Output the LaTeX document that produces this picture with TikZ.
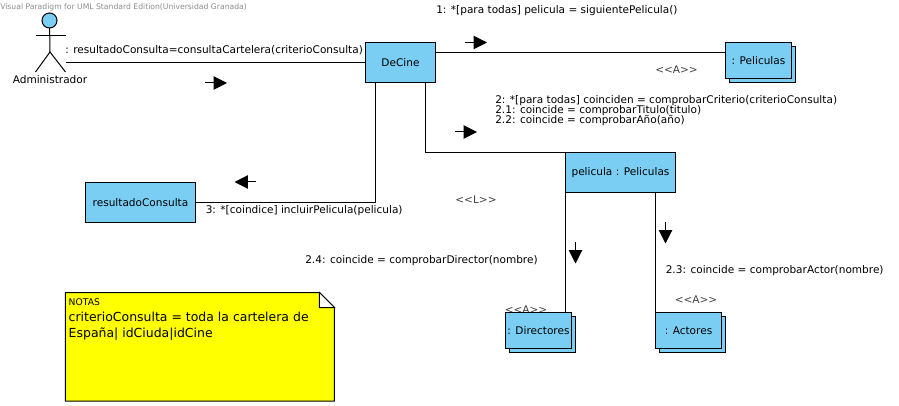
\documentclass[tikz,border=0pt]{standalone}
\usepackage{xcolor}
\usepackage{fontspec}
\setmainfont{DejaVu Sans}
\usetikzlibrary{arrows.meta, positioning, shadows}
\definecolor{objblue}{RGB}{122, 206, 244}
\definecolor{noteyellow}{RGB}{255, 255, 0}
\tikzset{
    objbox/.style={rectangle, draw=black, fill=objblue, line width=0.75pt, outer sep=0pt, minimum width=52.5pt, minimum height=30pt, inner sep=0pt, text centered, font=\fontsize{7.9}{9}\selectfont},
    multibox/.style={objbox, minimum width=49.5pt, minimum height=27pt, text height=7.5pt, text depth=1pt, copy shadow={shadow xshift=3pt, shadow yshift=-3pt, draw=black, fill=objblue, line width=0.75pt}},
    msg/.style={anchor=west, inner sep=0pt, yshift=-1pt, font=\fontsize{7.9}{9}\selectfont},
    stereo/.style={anchor=center, inner sep=0pt, yshift=-0.75pt, font=\fontsize{7.9}{9}\selectfont, text=black!75},
    line/.style={draw, line width=0.75pt},
    dirmark/.style={draw, line width=0.75pt, -{Triangle[length=10pt, width=10pt]}}
}
\begin{document}
\begin{tikzpicture}[x=0.75pt, y=-0.75pt]
        \useasboundingbox (0,0) rectangle (899,406);

        \node [anchor=west, inner sep=0pt, text=black!45, font=\fontsize{5.75}{7}\selectfont] (watermark) at (0,7) {Visual Paradigm for UML Standard Edition(Universidad Granada)};

        % this one sits under the Directores box
        \node [stereo] (stereodir) at (526,309) {<{}<A>{}>};

        % Objects
        \node [objbox] (decine) at (400.5,62.5) {DeCine};
        \node [multibox, right=217.5pt of decine, yshift=1.5pt] (peliculas) {: Peliculas};
        \node [objbox, minimum width=82.5pt, below right=52.5pt and 97.5pt of decine] (pelicula) {pelicula : Peliculas};
        \node [objbox, minimum width=82.5pt, below left=75pt and 127.5pt of decine] (resultado) {resultadoConsulta};
        \node [multibox, below=90pt of pelicula.south west, xshift=-20.25pt] (directores) {: Directores};
        \node [multibox, below=90pt of pelicula.south east, xshift=9.75pt] (actores) {: Actores};

        % Actor
        \node [circle, draw=black, fill=objblue, line width=0.75pt, outer sep=0pt, minimum size=11.25pt, inner sep=0pt] (head) at (49.5,20.5) {};
        \coordinate (hip) at (50,52);
        \coordinate (handleft) at (35.5,36);
        \coordinate (handright) at (65.5,36);
        \coordinate (footleft) at (35.5,72);
        \coordinate (footright) at (65.5,72);
        \coordinate (actorout) at (65.5,62.5);
        \draw [line] (head) -- (hip);
        \draw [line] (handleft) -- (handright);
        \draw [line] (footleft) -- (hip) -- (footright);
        \node [anchor=center, inner sep=0pt, font=\fontsize{7.9}{9}\selectfont] (actorname) at (50,79.5) {Administrador};

        % Note
        \node [rectangle, minimum width=201.75pt, minimum height=81.5pt, inner sep=0pt, outer sep=0pt, below=52.5pt of resultado, xshift=44.6pt] (notebox) {};
        \coordinate (foldtop) at ([xshift=-11.25pt]notebox.north east);
        \coordinate (foldside) at ([yshift=-11.25pt]notebox.north east);
        \draw [fill=noteyellow, line width=0.75pt] (notebox.north west) -- (foldtop) -- (foldside) -- (notebox.south east) -- (notebox.south west) -- cycle;
        \draw [fill=white, line width=0.75pt] (foldtop) -- (foldside) -- (foldtop |- foldside) -- cycle;
        \node [anchor=north west, inner sep=0pt, xshift=2.25pt, yshift=-4.5pt, align=left, font=\fontsize{9.35}{12}\selectfont] (notetext) at (notebox.north west) {{\fontsize{6.9}{9}\selectfont NOTAS}\\criterioConsulta = toda la cartelera de\\España| idCiuda|idCine};

        % Links
        \draw [line] (actorout) -- (decine);
        \draw [line] ([yshift=7.5pt]decine.east) -- ([yshift=6pt]peliculas.west);
        \draw [line] ([xshift=18.75pt]decine.south) |- (pelicula.north west);
        \draw [line] ([xshift=-18.75pt]decine.south) |- (resultado.east);
        \draw [line] (pelicula.south west) -- (pelicula.south west |- directores.north);
        \draw [line] (actores.north west |- pelicula.south) -- (actores.north west);

        % Message direction
        \coordinate (marka) at (205,83);
        \coordinate (markatip) at (227,83);
        \coordinate (markb) at (465,42.5);
        \coordinate (markbtip) at (487,42.5);
        \coordinate (markc) at (455,132);
        \coordinate (markctip) at (477,132);
        \coordinate (markd) at (256,182);
        \coordinate (markdtip) at (234.5,182);
        \coordinate (marke) at (575.5,242);
        \coordinate (markeetip) at (575.5,263.5);
        \coordinate (markf) at (665.5,222);
        \coordinate (markftip) at (665.5,243.5);
        \draw [dirmark] (marka) -- (markatip);
        \draw [dirmark] (markb) -- (markbtip);
        \draw [dirmark] (markc) -- (markctip);
        \draw [dirmark] (markd) -- (markdtip);
        \draw [dirmark] (marke) -- (markeetip);
        \draw [dirmark] (markf) -- (markftip);

        % Labels
        \node [msg] (msgmain) at (65,49) {: resultadoConsulta=consultaCartelera(criterioConsulta)};
        \node [msg] (msgone) at (436,9) {1: *[para todas] pelicula = siguientePelicula()};
        \node [msg] (msgtwo) at (495,99) {2: *[para todas] coinciden = comprobarCriterio(criterioConsulta)};
        \node [msg] (msgtwoa) at (495,109) {2.1: coincide = comprobarTitulo(titulo)};
        \node [msg] (msgtwob) at (495,119) {2.2: coincide = comprobarAño(año)};
        \node [msg] (msgthree) at (205.5,209) {3: *[coindice] incluirPelicula(pelicula)};
        \node [msg] (msgtwod) at (305,259) {2.4: coincide = comprobarDirector(nombre)};
        \node [msg] (msgtwoc) at (665.5,269) {2.3: coincide = comprobarActor(nombre)};
        \node [stereo] (stereopel) at (676.5,69) {<{}<A>{}>};
        \node [stereo] (stereoact) at (696,299) {<{}<A>{}>};
        \node [stereo] (stereol) at (476,199) {<{}<L>{}>};
\end{tikzpicture}
\end{document}
